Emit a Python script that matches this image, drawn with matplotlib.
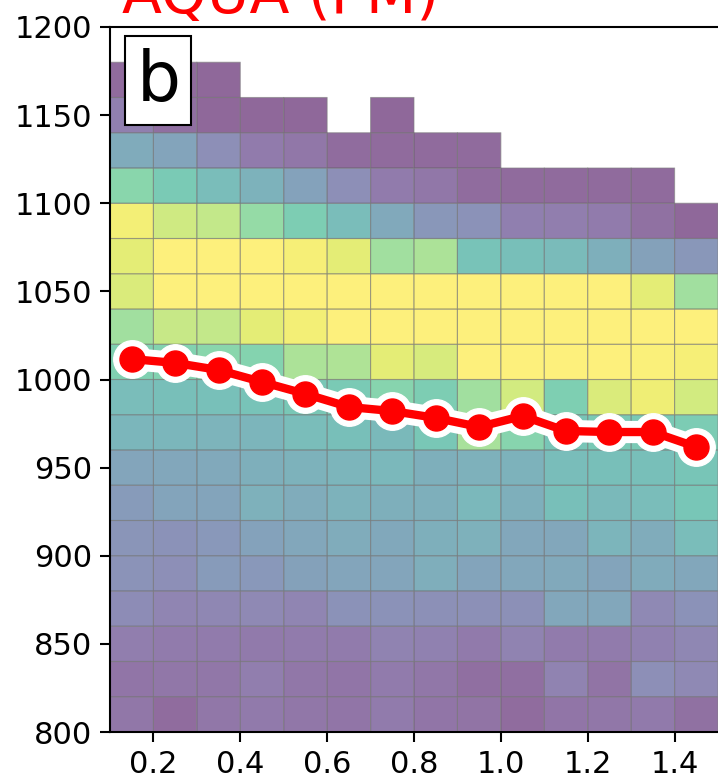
import numpy as np
import matplotlib
matplotlib.use("Agg")
import matplotlib.pyplot as plt
from matplotlib.patches import Rectangle

# bin edges of the 2D histogram (AOD on x, surface pressure on y)
aod_edges = [0.1, 0.2, 0.3, 0.4, 0.5, 0.6, 0.7, 0.8, 0.9, 1.0, 1.1, 1.2, 1.3, 1.4, 1.5]
pres_edges = [800, 820, 840, 860, 880, 900, 920, 940, 960, 980, 1000,
              1020, 1040, 1060, 1080, 1100, 1120, 1140, 1160, 1180, 1200]

# normalised frequency per cell, one row per pressure bin (bottom -> top), None = no data
N = None
freq = [
    [0.08, 0.03, 0.08, 0.09, 0.08, 0.07, 0.10, 0.07, 0.06, 0.03, 0.07, 0.08, 0.09, 0.05],  # 800-820
    [0.07, 0.08, 0.08, 0.11, 0.08, 0.07, 0.10, 0.08, 0.04, 0.04, 0.14, 0.06, 0.20, 0.17],  # 820-840
    [0.11, 0.10, 0.10, 0.09, 0.10, 0.10, 0.14, 0.13, 0.09, 0.14, 0.10, 0.10, 0.13, 0.16],  # 840-860
    [0.19, 0.15, 0.16, 0.17, 0.15, 0.22, 0.22, 0.21, 0.21, 0.21, 0.35, 0.35, 0.17, 0.22],  # 860-880
    [0.23, 0.20, 0.27, 0.26, 0.31, 0.34, 0.34, 0.40, 0.33, 0.35, 0.37, 0.33, 0.38, 0.35],  # 880-900
    [0.24, 0.22, 0.26, 0.32, 0.35, 0.39, 0.36, 0.41, 0.42, 0.35, 0.35, 0.45, 0.39, 0.50],  # 900-920
    [0.27, 0.33, 0.33, 0.42, 0.39, 0.43, 0.41, 0.41, 0.47, 0.41, 0.52, 0.48, 0.50, 0.57],  # 920-940
    [0.34, 0.35, 0.37, 0.41, 0.43, 0.45, 0.47, 0.41, 0.42, 0.43, 0.51, 0.52, 0.52, 0.56],  # 940-960
    [0.46, 0.46, 0.44, 0.45, 0.50, 0.52, 0.48, 0.58, 0.78, 0.67, 0.56, 0.59, 0.59, 0.61],  # 960-980
    [0.50, 0.52, 0.53, 0.55, 0.58, 0.60, 0.67, 0.62, 0.76, 0.89, 0.63, 0.91, 0.96, 0.89],  # 980-1000
    [0.64, 0.65, 0.68, 0.66, 0.79, 0.80, 0.93, 0.90, 1.00, 1.00, 1.00, 1.00, 0.99, 0.98],  # 1000-1020
    [0.76, 0.86, 0.85, 0.93, 0.97, 1.00, 1.00, 1.00, 1.00, 1.00, 1.00, 1.00, 1.00, 1.00],  # 1020-1040
    [0.91, 1.00, 1.00, 1.00, 1.00, 1.00, 1.00, 1.00, 1.00, 1.00, 1.00, 1.00, 0.93, 0.76],  # 1040-1060
    [0.93, 1.00, 1.00, 1.00, 0.98, 0.93, 0.76, 0.79, 0.55, 0.52, 0.49, 0.41, 0.31, 0.25],  # 1060-1080
    [0.97, 0.88, 0.85, 0.72, 0.62, 0.50, 0.37, 0.25, 0.22, 0.12, 0.11, 0.10, 0.05, 0.01],  # 1080-1100
    [0.68, 0.60, 0.50, 0.43, 0.32, 0.20, 0.10, 0.08, 0.03, 0.02, 0.02, 0.02, 0.02, N],     # 1100-1120
    [0.38, 0.33, 0.20, 0.10, 0.08, 0.03, 0.02, 0.02, 0.02, N, N, N, N, N],                 # 1120-1140
    [0.12, 0.04, 0.01, 0.01, 0.01, N, 0.01, N, N, N, N, N, N, N],                          # 1140-1160
    [0.02, 0.02, 0.01, N, N, N, N, N, N, N, N, N, N, N],                                   # 1160-1180
    [N, N, N, N, N, N, N, N, N, N, N, N, N, N],                                            # 1180-1200
]

# mean pressure per AOD bin (red curve)
line_aod = [0.15, 0.25, 0.35, 0.45, 0.55, 0.65, 0.75, 0.85, 0.95, 1.05, 1.15, 1.25, 1.35, 1.45]
line_pres = [1011.6, 1009.4, 1005.4, 998.6, 991.8, 984.4, 982.1, 978.2, 973.1, 979.3,
             970.8, 970.2, 970.2, 961.7]

title = "AQUA (PM)"
panel = "b"

plt.rcParams['font.family'] = 'DejaVu Sans'

fig = plt.figure(figsize=(7.18, 7.80), dpi=100)
ax = fig.add_axes([110 / 718, 48 / 780, 608 / 718, 705 / 780])

C = np.ma.masked_invalid(np.array(freq, dtype=float))
ax.pcolor(aod_edges, pres_edges, C, cmap='viridis', vmin=0, vmax=1,
          alpha=0.6, edgecolors='#7f7f7f', linewidth=0.8)

# white halo first, red curve on top
ax.plot(line_aod, line_pres, color='white', lw=16, marker='o', ms=27,
        mec='white', mfc='white', solid_capstyle='round', zorder=3)
ax.plot(line_aod, line_pres, color='red', lw=6, marker='o', ms=18,
        mec='red', mfc='red', zorder=4)

ax.set_xlim(0.1, 1.5)
ax.set_ylim(800, 1200)
ax.set_xticks([0.2, 0.4, 0.6, 0.8, 1.0, 1.2, 1.4])
ax.set_yticks([800, 850, 900, 950, 1000, 1050, 1100, 1150, 1200])
ax.tick_params(labelsize=22, width=1.5, length=7, pad=6)
for s in ['left', 'bottom', 'top']:
    ax.spines[s].set_linewidth(1.5)
ax.spines['right'].set_visible(False)

# panel letter in a box
ax.add_patch(Rectangle((15 / 608, 607 / 705), 66 / 608, 89 / 705, transform=ax.transAxes,
                       facecolor='white', edgecolor='black', lw=1.5, zorder=5))
ax.text(49 / 608, 631 / 705, panel, transform=ax.transAxes, ha='center', va='baseline',
        fontsize=50, zorder=6)

fig.text(122 / 718, 1 - 13 / 780, title, color='red', fontsize=42, ha='left', va='baseline')

fig.savefig('out.png', dpi=100)
